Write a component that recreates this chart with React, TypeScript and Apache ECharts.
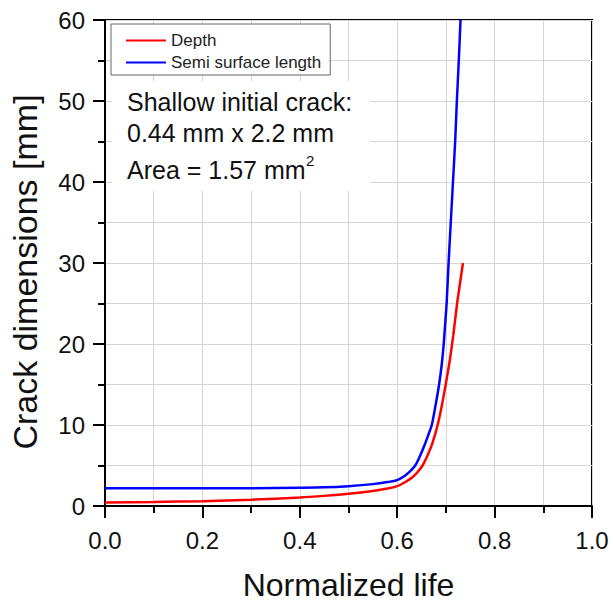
import React, { useEffect, useRef } from "react";
import * as echarts from "echarts";

const xTicks = [0, 0.2, 0.4, 0.6, 0.8, 1.0];
const yTicks = [0, 10, 20, 30, 40, 50, 60];

const depthLife = [0, 0.1, 0.2, 0.3, 0.4, 0.45, 0.5, 0.55, 0.58, 0.6, 0.615, 0.63, 0.642, 0.652, 0.662, 0.672, 0.683, 0.692, 0.701, 0.708, 0.715, 0.723, 0.729, 0.735];
const depthValues = [0.44, 0.5, 0.6, 0.78, 1.05, 1.25, 1.5, 1.85, 2.15, 2.45, 2.9, 3.5, 4.2, 5.0, 6.2, 7.7, 10, 12.5, 15.5, 18, 21, 25, 27.5, 30];

const semiLife = [0, 0.1, 0.2, 0.3, 0.4, 0.45, 0.5, 0.55, 0.58, 0.6, 0.615, 0.625, 0.637, 0.647, 0.656, 0.664, 0.671, 0.679, 0.686, 0.6915, 0.6955, 0.6985, 0.7015, 0.7055, 0.71, 0.7145, 0.719, 0.7225, 0.7265, 0.73];
const semiValues = [2.2, 2.2, 2.2, 2.2, 2.25, 2.3, 2.45, 2.7, 2.95, 3.2, 3.7, 4.2, 5.0, 6.2, 7.5, 8.8, 10, 12.5, 15, 17.5, 20, 22.5, 25, 30, 35, 40, 45, 50, 55, 60];

const seriesNames = ["Depth", "Semi surface length"];
const xAxisName = "Normalized life";
const yAxisName = "Crack dimensions [mm]";
const noteLines = ["Shallow initial crack:", "0.44 mm x 2.2 mm", "Area = 1.57 mm"];
const noteSup = "2";

const FONT = "'Liberation Sans', Arial, sans-serif";

export default function App() {
  const ref = useRef<HTMLDivElement>(null);
  useEffect(() => {
    if (!ref.current) return;
    const chart = echarts.init(ref.current, null, { renderer: "svg" });
    const grid = { left: 105, right: 21, top: 20, bottom: 100 };
    const gridColor = "#d6d6d6";
    const tickStyle = { color: "#000", width: 2 };
    chart.setOption({
      animation: false,
      backgroundColor: "#fff",
      grid: { ...grid, show: true, borderColor: "#000", borderWidth: 2, backgroundColor: "transparent" },
      legend: {
        orient: "vertical",
        left: 111,
        top: 24,
        backgroundColor: "#fff",
        borderColor: "#666",
        borderWidth: 1,
        borderRadius: 0,
        padding: [8, 9, 4, 14],
        itemWidth: 40,
        itemHeight: 14,
        itemGap: 5,
        itemStyle: { opacity: 0 },
        textStyle: { fontSize: 17, fontFamily: FONT, color: "#222" },
        data: seriesNames,
      },
      xAxis: {
        type: "value",
        min: xTicks[0],
        max: xTicks[xTicks.length - 1],
        interval: 0.2,
        name: xAxisName,
        nameLocation: "middle",
        nameGap: 63,
        nameTextStyle: { fontSize: 32, fontFamily: FONT, color: "#111" },
        axisLine: { show: true, onZero: false, lineStyle: { color: "#000", width: 2 } },
        axisTick: { show: true, inside: false, length: 12, lineStyle: tickStyle },
        minorTick: { show: true, splitNumber: 2, length: 7, lineStyle: tickStyle },
        splitLine: { show: true, lineStyle: { color: gridColor, width: 1 } },
        minorSplitLine: { show: true, lineStyle: { color: gridColor, width: 1 } },
        axisLabel: { fontSize: 24, fontFamily: FONT, color: "#111", margin: 22, formatter: (v: number) => v.toFixed(1) },
      },
      yAxis: {
        type: "value",
        min: yTicks[0],
        max: yTicks[yTicks.length - 1],
        interval: 10,
        axisLine: { show: true, onZero: false, lineStyle: { color: "#000", width: 2 } },
        axisTick: { show: true, inside: false, length: 12, lineStyle: tickStyle },
        minorTick: { show: true, splitNumber: 2, length: 7, lineStyle: tickStyle },
        splitLine: { show: true, lineStyle: { color: gridColor, width: 1 } },
        minorSplitLine: { show: true, lineStyle: { color: gridColor, width: 1 } },
        axisLabel: { fontSize: 24, fontFamily: FONT, color: "#111", margin: 20 },
      },
      graphic: [
        {
          type: "text",
          x: 25,
          y: 272,
          rotation: Math.PI / 2,
          style: { text: yAxisName, fontSize: 34, fontFamily: FONT, fill: "#111", align: "center", verticalAlign: "middle" },
        },
        { type: "rect", shape: { x: 112, y: 81, width: 258, height: 110 }, style: { fill: "#fff" }, z: 50 },
        { type: "text", x: 127, y: 102, z: 51, style: { text: noteLines[0], fontSize: 25, fontFamily: FONT, fill: "#111", verticalAlign: "middle" } },
        { type: "text", x: 127, y: 133, z: 51, style: { text: noteLines[1], fontSize: 25, fontFamily: FONT, fill: "#111", verticalAlign: "middle" } },
        { type: "text", x: 127, y: 169.6, z: 51, style: { text: noteLines[2], fontSize: 25, fontFamily: FONT, fill: "#111", verticalAlign: "middle" } },
        { type: "text", x: 306, y: 160, z: 51, style: { text: noteSup, fontSize: 15, fontFamily: FONT, fill: "#111", verticalAlign: "middle" } },
      ],
      series: [
        {
          name: seriesNames[0],
          type: "line",
          data: depthLife.map((x, i) => [x, depthValues[i]]),
          symbol: "none",
          smooth: 0.3,
          lineStyle: { color: "#ff0000", width: 2.5 },
          itemStyle: { color: "#ff0000" },
          z: 3,
        },
        {
          name: seriesNames[1],
          type: "line",
          data: semiLife.map((x, i) => [x, semiValues[i]]),
          symbol: "none",
          smooth: 0.3,
          lineStyle: { color: "#0000ff", width: 2.5 },
          itemStyle: { color: "#0000ff" },
          z: 3,
        },
      ],
    });
    return () => chart.dispose();
  }, []);
  return <div ref={ref} style={{ position: "fixed", left: 0, top: 0, width: 613, height: 606, background: "#fff" }} />;
}
